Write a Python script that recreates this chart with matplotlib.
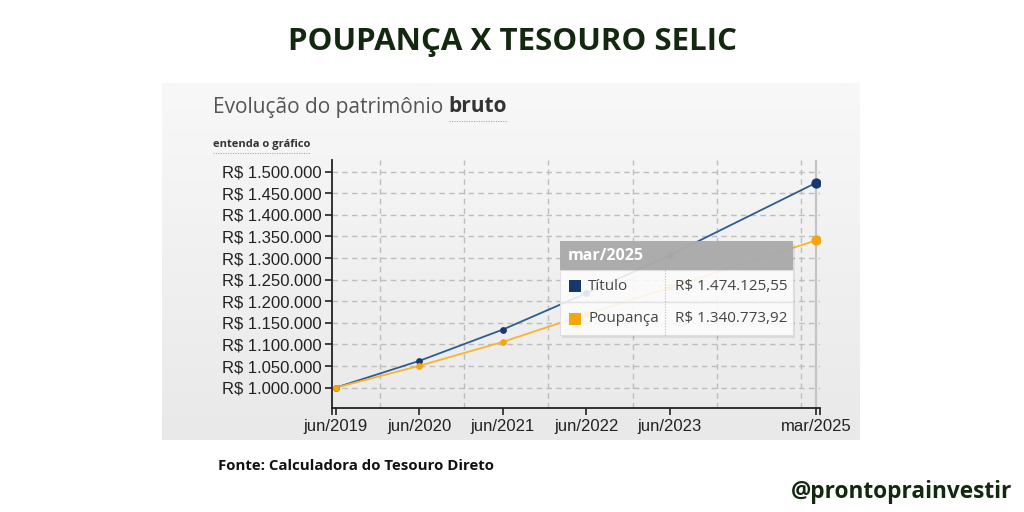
import matplotlib
matplotlib.use("Agg")
import matplotlib.pyplot as plt
import numpy as np
from matplotlib.patches import Rectangle
from matplotlib.lines import Line2D
from matplotlib.colors import LinearSegmentedColormap

# ---- data ----
categories = ["jun/2019", "jun/2020", "jun/2021", "jun/2022", "jun/2023", "mar/2025"]
months = [0, 12, 24, 36, 48, 69]          # months since jun/2019
titulo = [1000000, 1062000, 1134500, 1218500, 1306500, 1474125.55]
poupanca = [1000000, 1050500, 1106000, 1170000, 1232000, 1340773.92]
yticks = list(range(1000000, 1500001, 50000))
tooltip_label = "mar/2025"
tooltip_rows = [("Título", "R$ 1.474.125,55"), ("Poupança", "R$ 1.340.773,92")]

W, H = 1024, 512
fig = plt.figure(figsize=(W / 100, H / 100), dpi=100)
fig.patch.set_facecolor("white")

def fx(x):
    return x / W

def fy(y):
    return 1 - y / H

BLUE_LINE = "#2d5d8e"
BLUE_MK = "#16396b"
ORANGE_LINE = "#f7b431"
ORANGE_MK = "#f6a50f"
GREEN = "#12290f"
GRID = "#bdbdbd"

# background panel with vertical gradient
bg = fig.add_axes([fx(162), fy(440), fx(860 - 162), (440 - 83) / H], zorder=-5)
grad = np.linspace(0, 1, 256).reshape(-1, 1)
cmap = LinearSegmentedColormap.from_list("g", ["#f8f8f8", "#e9e9e9"])
bg.imshow(grad, aspect="auto", cmap=cmap, extent=[0, 1, 0, 1], origin="upper")
bg.set_axis_off()

# main axes
ax = fig.add_axes([fx(331.7), fy(408), fx(820 - 331.7), (408 - 160) / H])
ax.patch.set_alpha(0)
ax.set_xlim(-0.57, 69.57)
ax.set_ylim(953000, 1527000)

for v in yticks:
    ax.axhline(v, color=GRID, lw=1, ls=(0, (4, 3)), zorder=1)
for g in [6.4, 18.4, 30.5, 42.7, 54.8, 66.9]:
    ax.axvline(g, color=GRID, lw=1, ls=(0, (4, 3)), zorder=1)
ax.axvline(months[-1], color="#c4c4c4", lw=1.6, zorder=1.5)

ax.plot(months, titulo, color=BLUE_LINE, lw=1.3, zorder=3)
ax.scatter(months[:-1], titulo[:-1], s=24, color=BLUE_MK, zorder=4, linewidths=0)
ax.scatter(months[-1:], titulo[-1:], s=55, color=BLUE_MK, zorder=4, linewidths=0)
ax.plot(months, poupanca, color=ORANGE_LINE, lw=1.3, zorder=3)
ax.scatter(months[:-1], poupanca[:-1], s=24, color=ORANGE_MK, zorder=4, linewidths=0)
ax.scatter(months[-1:], poupanca[-1:], s=55, color=ORANGE_MK, zorder=4, linewidths=0)

for s in ["top", "right"]:
    ax.spines[s].set_visible(False)
for s in ["left", "bottom"]:
    ax.spines[s].set_color("#222222")
    ax.spines[s].set_linewidth(1.3)

ax.set_yticks(yticks)
ax.set_yticklabels(["R$ " + f"{v:,}".replace(",", ".") for v in yticks],
                   fontsize=12, color="#222222", family="Liberation Sans")
ax.set_xticks(months)
ax.set_xticklabels(categories, fontsize=12, color="#222222", family="Liberation Sans")
ax.tick_params(axis="y", length=5, width=1.2, color="#222222", pad=2)
ax.tick_params(axis="x", length=5, width=1.2, color="#222222", pad=3)
# outer end ticks
ax.set_xticks([-0.57, 69.57], minor=True)
ax.tick_params(axis="x", which="minor", length=5, width=1.2, color="#222222")

# ---- tooltip ----
tx0, tx1, ty0, ty1 = 560, 793, 241, 335
hdr = 270
mid = 302
col = 665
fig.add_artist(Rectangle((fx(tx0 + 2), fy(ty1 + 3)), fx(tx1 - tx0), (ty1 - ty0) / H,
                         transform=fig.transFigure, facecolor="#000000", alpha=0.08,
                         edgecolor="none", zorder=5))
fig.add_artist(Rectangle((fx(tx0), fy(ty1)), fx(tx1 - tx0), (ty1 - hdr) / H,
                         transform=fig.transFigure, facecolor="white", alpha=0.88,
                         edgecolor="#dddddd", lw=0.8, zorder=6))
fig.add_artist(Rectangle((fx(tx0), fy(hdr)), fx(tx1 - tx0), (hdr - ty0) / H,
                         transform=fig.transFigure, facecolor="#ababab", alpha=0.97,
                         edgecolor="none", zorder=6))
fig.add_artist(Line2D([fx(tx0), fx(tx1)], [fy(mid), fy(mid)], transform=fig.transFigure,
                      color="#e2e2e2", lw=1, zorder=7))
fig.add_artist(Line2D([fx(col), fx(col)], [fy(hdr), fy(ty1)], transform=fig.transFigure,
                      color="#bbbbbb", lw=0.8, ls=(0, (1, 1.5)), zorder=7))
fig.text(fx(568), fy((ty0 + hdr) / 2 + 1), tooltip_label, fontsize=11.5, fontweight="bold",
         color="white", va="center", ha="left", family="Open Sans", zorder=8)
sq_colors = [BLUE_MK, ORANGE_MK]
for i, (name, val) in enumerate(tooltip_rows):
    cy = (hdr + mid) / 2 if i == 0 else (mid + ty1) / 2
    fig.add_artist(Rectangle((fx(569), fy(cy + 6)), fx(12), 12 / H, transform=fig.transFigure,
                             facecolor=sq_colors[i], edgecolor="none", zorder=8))
    fig.text(fx(588), fy(cy), name, fontsize=11, color="#444444", va="center", ha="left",
             family="Open Sans", zorder=8)
    fig.text(fx(675), fy(cy), val, fontsize=11, color="#444444", va="center", ha="left",
             family="Open Sans", zorder=8)

# ---- texts ----
fig.text(0.5, fy(42), "POUPANÇA X TESOURO SELIC", fontsize=22.5, fontweight="bold",
         color=GREEN, ha="center", va="center", family="Open Sans")
t1 = fig.text(fx(213), fy(107), "Evolução do patrimônio ", fontsize=15, color="#555555",
              ha="left", va="center", family="Open Sans")
fig.canvas.draw()
bb = t1.get_window_extent()
t2 = fig.text(bb.x1 / W, fy(107), "bruto", fontsize=15, fontweight="bold", color="#333333",
              ha="left", va="center", family="Open Sans")
fig.canvas.draw()
bb2 = t2.get_window_extent()
fig.add_artist(Line2D([bb2.x0 / W, bb2.x1 / W], [fy(121), fy(121)], transform=fig.transFigure,
                      color="#aaaaaa", lw=0.8, ls=(0, (1, 1.2))))
t3 = fig.text(fx(213), fy(144), "entenda o gráfico", fontsize=8, fontweight="bold",
              color="#333333", ha="left", va="center", family="Open Sans")
fig.canvas.draw()
bb3 = t3.get_window_extent()
fig.add_artist(Line2D([bb3.x0 / W, bb3.x1 / W], [fy(153), fy(153)], transform=fig.transFigure,
                      color="#aaaaaa", lw=0.8, ls=(0, (1, 1.2))))

fig.text(fx(218), fy(466), "Fonte: Calculadora do Tesouro Direto", fontsize=10.8,
         fontweight="bold", color="#111111", ha="left", va="center", family="Open Sans")
fig.text(fx(1012), fy(492), "@prontoprainvestir", fontsize=16.3, fontweight="bold",
         color=GREEN, ha="right", va="center", family="Open Sans")

fig.savefig("out.png", dpi=100)
